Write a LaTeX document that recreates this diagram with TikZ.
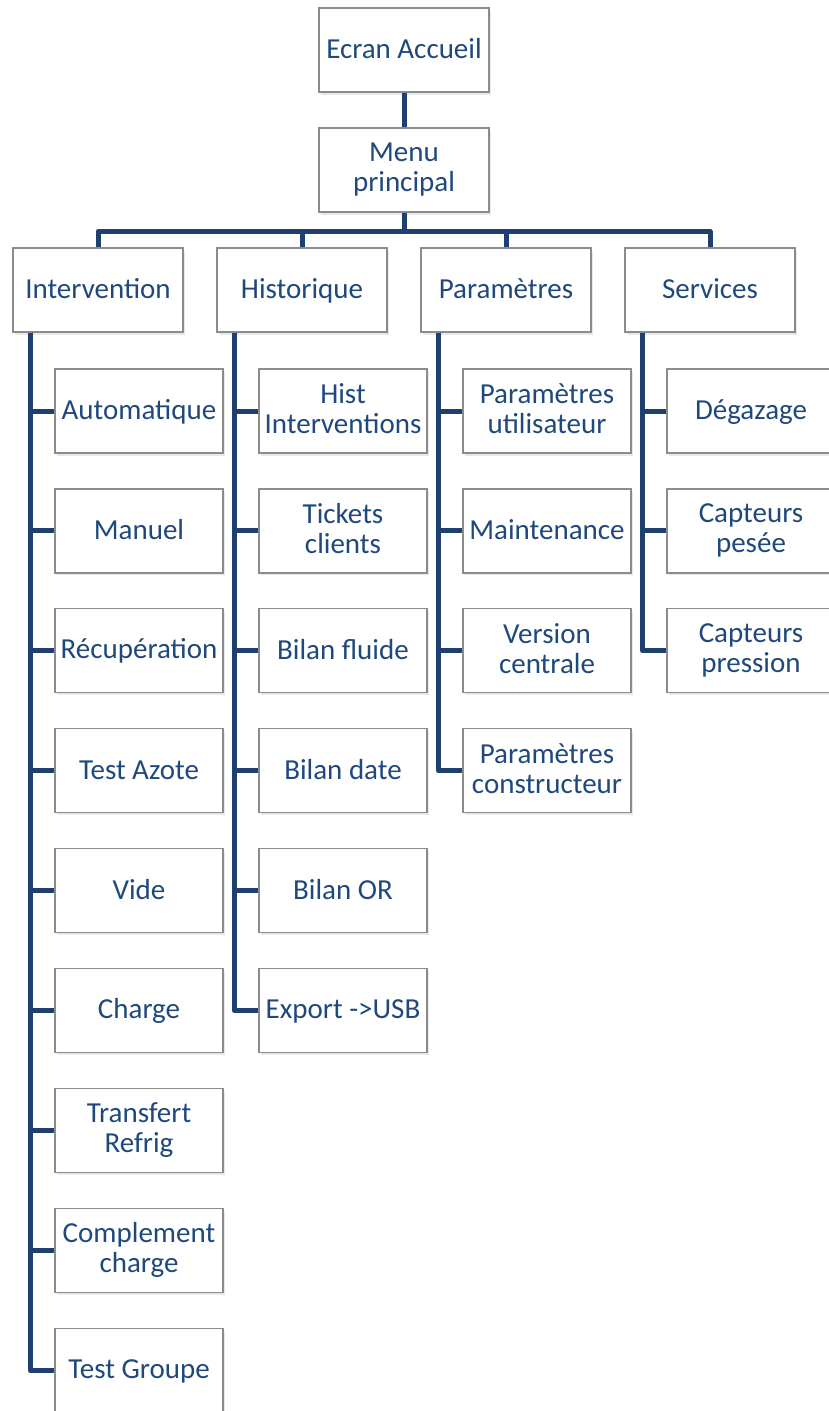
\documentclass[tikz,border=0pt]{standalone}
\usepackage{fontspec}
\setmainfont{Carlito}
\usetikzlibrary{positioning,shadows}
\definecolor{txtblue}{HTML}{1F497D}
\definecolor{linkblue}{HTML}{1F3F6E}
\definecolor{boxgray}{HTML}{8C8C8C}
\newcommand{\boxstrut}{\rule[-4pt]{0pt}{25pt}}
\tikzset{
	topbox/.style={
		rectangle,
		draw=boxgray, line width=1.2pt,
		fill=white,
		drop shadow={shadow xshift=1.5pt, shadow yshift=-2.5pt, opacity=.18},
		text=txtblue,
		align=center,
		inner sep=0pt,
		execute at begin node=\boxstrut,
		execute at end node=\boxstrut,
		minimum width=170pt,
		minimum height=84pt},
	subbox/.style={
		topbox,
		minimum width=168pt},
	link/.style={draw=linkblue, line width=5pt, line join=round},
}

\begin{document}
\begin{tikzpicture}[x=1pt, y=-1pt, font=\fontsize{29}{30}\selectfont]
	\useasboundingbox (0,0) rectangle (829,1411);
	% haut
	\node[topbox] (accueil) at (404,50) {Ecran Accueil};
	\node[topbox] (menu) at (404,170) {Menu\\principal};
	% rubriques
	\node[topbox] (inter) at (98,290) {Intervention};
	\node[topbox] (hist) at (302,290) {Historique};
	\node[topbox] (param) at (506,290) {Paramètres};
	\node[topbox] (serv) at (710,290) {Services};
	% sous-menus
	\foreach \txt [count=\i] in {Automatique, Manuel, Récupération, Test Azote, Vide, Charge, {Transfert\\Refrig}, {Complement\\charge}, Test Groupe}
		\node[subbox] (inter\i) at (139,{411+119.9*(\i-1)}) {\txt};
	\foreach \txt [count=\i] in {{Hist\\Interventions}, {Tickets\\clients}, Bilan fluide, Bilan date, Bilan OR, Export ->USB}
		\node[subbox] (hist\i) at (343,{411+119.9*(\i-1)}) {\txt};
	\foreach \txt [count=\i] in {{Paramètres\\utilisateur}, Maintenance, {Version\\centrale}, {Paramètres\\constructeur}}
		\node[subbox] (param\i) at (547,{411+119.9*(\i-1)}) {\txt};
	\foreach \txt [count=\i] in {Dégazage, {Capteurs\\pesée}, {Capteurs\\pression}}
		\node[subbox] (serv\i) at (751,{411+119.9*(\i-1)}) {\txt};
	% liaisons
	\draw[link] (accueil) -- (menu);
	\foreach \r in {inter, hist, param, serv}
		\draw[link] (menu.south) -- ++(0,19) -| (\r.north);
	\foreach \i in {1,...,9}
		\draw[link] ([xshift=18pt]inter.south west) |- (inter\i.west);
	\foreach \i in {1,...,6}
		\draw[link] ([xshift=18pt]hist.south west) |- (hist\i.west);
	\foreach \i in {1,...,4}
		\draw[link] ([xshift=18pt]param.south west) |- (param\i.west);
	\foreach \i in {1,...,3}
		\draw[link] ([xshift=18pt]serv.south west) |- (serv\i.west);
\end{tikzpicture}
\end{document}
